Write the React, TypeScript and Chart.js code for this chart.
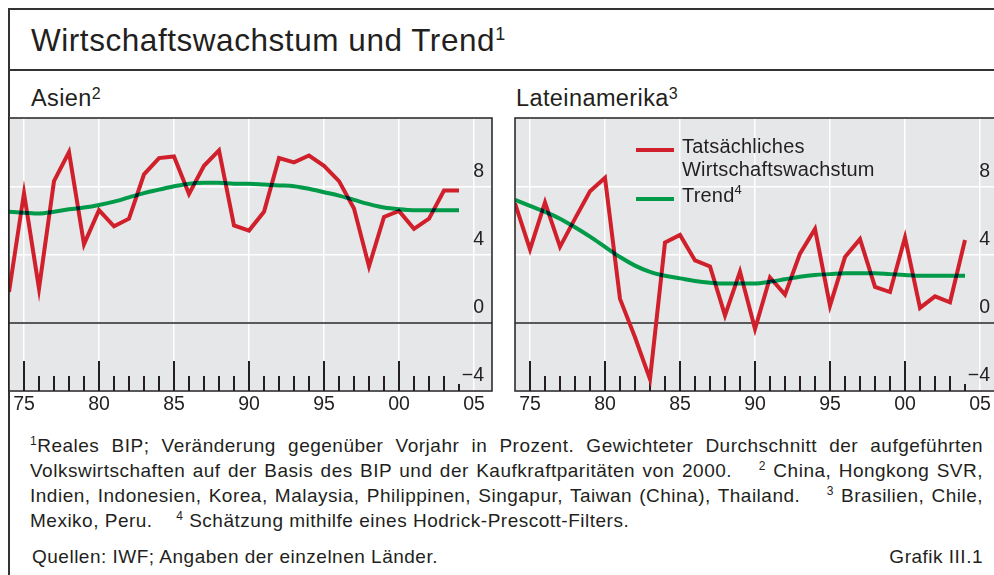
import React, { useEffect, useRef } from 'react';
import { Chart, registerables } from 'chart.js';

Chart.register(...registerables);

// ---------- data ----------
const years = [1974, 1975, 1976, 1977, 1978, 1979, 1980, 1981, 1982, 1983, 1984, 1985, 1986, 1987, 1988, 1989, 1990, 1991, 1992, 1993, 1994, 1995, 1996, 1997, 1998, 1999, 2000, 2001, 2002, 2003, 2004];
const asiaActual = [1.8, 7.6, 2.0, 8.3, 10.0, 4.6, 6.6, 5.65, 6.1, 8.7, 9.65, 9.75, 7.55, 9.2, 10.1, 5.7, 5.4, 6.5, 9.65, 9.4, 9.8, 9.2, 8.3, 6.7, 3.3, 6.2, 6.55, 5.5, 6.1, 7.75, 7.75];
const asiaTrend = [6.5, 6.45, 6.4, 6.5, 6.65, 6.75, 6.9, 7.1, 7.35, 7.6, 7.8, 8.0, 8.15, 8.2, 8.2, 8.15, 8.15, 8.1, 8.05, 8.0, 7.85, 7.65, 7.45, 7.2, 6.95, 6.75, 6.65, 6.6, 6.6, 6.6, 6.6];
const latamActual = [7.0, 4.3, 7.05, 4.45, 6.1, 7.7, 8.5, 1.4, -0.85, -3.3, 4.7, 5.15, 3.65, 3.3, 0.43, 3.0, -0.37, 2.65, 1.65, 4.05, 5.5, 1.0, 3.85, 4.9, 2.1, 1.8, 5.0, 0.87, 1.55, 1.2, 4.85];
const latamTrend = [7.2, 6.85, 6.5, 6.1, 5.6, 5.05, 4.45, 3.85, 3.35, 2.98, 2.75, 2.6, 2.45, 2.35, 2.3, 2.3, 2.3, 2.4, 2.55, 2.7, 2.8, 2.85, 2.9, 2.9, 2.9, 2.85, 2.8, 2.75, 2.75, 2.75, 2.75];
const xTickYears = [1975, 1980, 1985, 1990, 1995, 2000, 2005];
const yTickValues = [-4, 0, 4, 8, 12];
const yLabelValues = [-4, 0, 4, 8];
const X_MIN = 1974;
const X_MAX = 2006.2;
const Y_MIN = -4;
const Y_MAX = 12;

// ---------- styles ----------
const RED = '#d0202b';
const GREEN = '#009a48';
const BG = '#e6e7e9';
const INK = '#231f20';
const FONT = '"Liberation Sans", Arial, Helvetica, sans-serif';

const bgPlugin = {
  id: 'panelDeco',
  beforeDraw(chart: any) {
    const { ctx, chartArea: a } = chart;
    ctx.save();
    ctx.fillStyle = BG;
    ctx.fillRect(a.left, a.top, a.right - a.left, a.bottom - a.top);
    ctx.restore();
  },
  beforeDatasetsDraw(chart: any) {
    const { ctx, chartArea: a } = chart;
    const xs = chart.scales.x;
    ctx.save();
    ctx.strokeStyle = INK;
    ctx.lineWidth = 2;
    const last = years[years.length - 1];
    years.forEach((yr) => {
      if (yr < xTickYears[0]) return;
      const px = Math.round(xs.getPixelForValue(yr));
      const len = yr % 5 === 0 ? 30 : yr === last ? 7 : 15;
      ctx.beginPath();
      ctx.moveTo(px, a.bottom);
      ctx.lineTo(px, a.bottom - len);
      ctx.stroke();
    });
    ctx.restore();
  },
  beforeDatasetDraw(chart: any, args: any) {
    if (args.index === 0) {
      chart.ctx.save();
      chart.ctx.globalCompositeOperation = 'darken';
    }
  },
  afterDatasetDraw(chart: any, args: any) {
    if (args.index === 0) chart.ctx.restore();
  },
  afterDraw(chart: any) {
    const { ctx, chartArea: a } = chart;
    ctx.save();
    ctx.strokeStyle = INK;
    ctx.lineWidth = 1.5;
    ctx.strokeRect(a.left, a.top, a.right - a.left, a.bottom - a.top);
    ctx.restore();
  },
};

function makeConfig(actual: number[], trend: number[]): any {
  return {
    type: 'line',
    data: {
      datasets: [
        {
          label: 'Trend',
          data: years.map((x, i) => ({ x, y: trend[i] })),
          borderColor: GREEN,
          borderWidth: 4,
          pointRadius: 0,
          cubicInterpolationMode: 'monotone',
          clip: 0,
        },
        {
          label: 'Tatsächliches Wirtschaftswachstum',
          data: years.map((x, i) => ({ x, y: actual[i] })),
          borderColor: RED,
          borderWidth: 4,
          pointRadius: 0,
          tension: 0,
          borderJoinStyle: 'miter',
          borderCapStyle: 'butt',
          clip: 0,
        },
      ],
    },
    options: {
      animation: false,
      responsive: false,
      maintainAspectRatio: false,
      devicePixelRatio: 1,
      layout: { padding: { top: 12, left: 2, right: 2, bottom: 0 } },
      plugins: { legend: { display: false }, tooltip: { enabled: false } },
      scales: {
        x: {
          type: 'linear',
          min: X_MIN,
          max: X_MAX,
          afterBuildTicks: (s: any) => {
            s.ticks = xTickYears.map((v) => ({ value: v }));
          },
          afterFit: (s: any) => {
            s.height = 28;
          },
          grid: { color: '#ffffff', lineWidth: 1.5, drawTicks: false },
          border: { display: false },
          ticks: {
            color: INK,
            font: { family: FONT, size: 19.5 },
            padding: 2,
            maxRotation: 0,
            autoSkip: false,
            callback: (v: number) => String(Math.round(v) % 100).padStart(2, '0'),
          },
        },
        y: {
          type: 'linear',
          position: 'right',
          min: Y_MIN,
          max: Y_MAX,
          afterBuildTicks: (s: any) => {
            s.ticks = yTickValues.map((v) => ({ value: v }));
          },
          afterFit: (s: any) => {
            s.width = 0;
          },
          grid: {
            color: (c: any) => (c.tick && c.tick.value === 0 ? '#58595b' : '#ffffff'),
            lineWidth: (c: any) => (c.tick && c.tick.value === 0 ? 2 : 1.5),
            drawTicks: false,
          },
          border: { display: false },
          ticks: {
            mirror: true,
            padding: -8,
            labelOffset: -15,
            color: INK,
            font: { family: FONT, size: 19.5 },
            callback: (v: number) =>
              yLabelValues.includes(v) ? (v < 0 ? '\u2212' + Math.abs(v) : String(v)) : '',
          },
        },
      },
    },
    plugins: [bgPlugin],
  };
}

function Panel({ left, actual, trend }: { left: number; actual: number[]; trend: number[] }) {
  const ref = useRef<HTMLCanvasElement | null>(null);
  useEffect(() => {
    if (!ref.current) return;
    const chart = new Chart(ref.current, makeConfig(actual, trend));
    return () => chart.destroy();
  }, []);
  return (
    <canvas
      ref={ref}
      width={487}
      height={313}
      style={{ position: 'absolute', left, top: 106, width: 487, height: 313 }}
    />
  );
}

const bl = (baseline: number, size: number) => baseline - 0.8465 * size;

function Txt({ x, baseline, size, children, style }: any) {
  return (
    <div
      style={{
        position: 'absolute',
        left: x,
        top: bl(baseline, size),
        fontSize: size,
        lineHeight: `${size}px`,
        fontFamily: FONT,
        color: INK,
        whiteSpace: 'nowrap',
        ...style,
      }}
    >
      {children}
    </div>
  );
}

const Sup = ({ children, size = 12, top = -7 }: any) => (
  <span style={{ fontSize: size, position: 'relative', top, verticalAlign: 'baseline', lineHeight: 0 }}>{children}</span>
);

function FootLine({ baseline, children, justify = true }: any) {
  const size = 19;
  return (
    <div
      style={{
        position: 'absolute',
        left: 30,
        width: 953,
        top: bl(baseline, size),
        fontSize: size,
        lineHeight: `${size}px`,
        height: size,
        fontFamily: FONT,
        color: INK,
        letterSpacing: '0.5px',
        textAlign: justify ? 'justify' : 'left',
        textAlignLast: justify ? 'justify' : 'left',
        whiteSpace: justify ? 'normal' : 'nowrap',
      } as any}
    >
      {children}
    </div>
  );
}

const Gap = () => <span style={{ display: 'inline-block', width: 12 }} />;

export default function App() {
  return (
    <div
      style={{
        position: 'fixed',
        left: 0,
        top: 0,
        width: 994,
        height: 575,
        overflow: 'hidden',
        background: '#ffffff',
      }}
    >
      {/* frame */}
      <div style={{ position: 'absolute', left: 8, top: 8, width: 1.5, height: 600, background: '#333' }} />
      <div style={{ position: 'absolute', left: 8, top: 8, width: 1000, height: 1.5, background: '#333' }} />
      <div style={{ position: 'absolute', left: 8, top: 69, width: 1000, height: 1.5, background: '#333' }} />

      <Txt x={31} baseline={52} size={31.5} style={{ letterSpacing: '0.55px' }}>
        Wirtschaftswachstum und Trend<Sup size={18} top={-11}>1</Sup>
      </Txt>
      <Txt x={31} baseline={107} size={23.5} style={{ letterSpacing: '0.4px' }}>
        Asien<Sup size={16} top={-7}>2</Sup>
      </Txt>
      <Txt x={516} baseline={107} size={23.5} style={{ letterSpacing: '0.4px' }}>
        Lateinamerika<Sup size={16} top={-7}>3</Sup>
      </Txt>

      <Panel left={7} actual={asiaActual} trend={asiaTrend} />
      <Panel left={513} actual={latamActual} trend={latamTrend} />

      {/* legend */}
      <div style={{ position: 'absolute', left: 636, top: 148, width: 38, height: 4, background: RED }} />
      <Txt x={682} baseline={153} size={20} style={{ letterSpacing: '0.2px' }}>Tatsächliches</Txt>
      <Txt x={682} baseline={175.5} size={20} style={{ letterSpacing: '0.2px' }}>Wirtschaftswachstum</Txt>
      <div style={{ position: 'absolute', left: 636, top: 197, width: 38, height: 4, background: GREEN }} />
      <Txt x={682} baseline={201.5} size={20} style={{ letterSpacing: '0.2px' }}>
        Trend<Sup size={13} top={-8}>4</Sup>
      </Txt>

      {/* footnotes */}
      <FootLine baseline={452}>
        <Sup>1</Sup>Reales BIP; Veränderung gegenüber Vorjahr in Prozent. Gewichteter Durchschnitt der aufgeführten
      </FootLine>
      <FootLine baseline={477}>
        Volkswirtschaften auf der Basis des BIP und der Kaufkraftparitäten von 2000. <Gap /> <Sup>2</Sup> China, Hongkong SVR,
      </FootLine>
      <FootLine baseline={502}>
        Indien, Indonesien, Korea, Malaysia, Philippinen, Singapur, Taiwan (China), Thailand. <Gap /> <Sup>3</Sup> Brasilien, Chile,
      </FootLine>
      <FootLine baseline={527} justify={false}>
        Mexiko, Peru. <Gap /> <Sup>4</Sup> Schätzung mithilfe eines Hodrick-Prescott-Filters.
      </FootLine>
      <Txt x={32} baseline={563} size={19} style={{ letterSpacing: '0.5px' }}>
        Quellen: IWF; Angaben der einzelnen Länder.
      </Txt>
      <Txt x={0} baseline={563} size={19} style={{ letterSpacing: '0.5px', width: 983, textAlign: 'right' }}>
        Grafik III.1
      </Txt>
    </div>
  );
}
